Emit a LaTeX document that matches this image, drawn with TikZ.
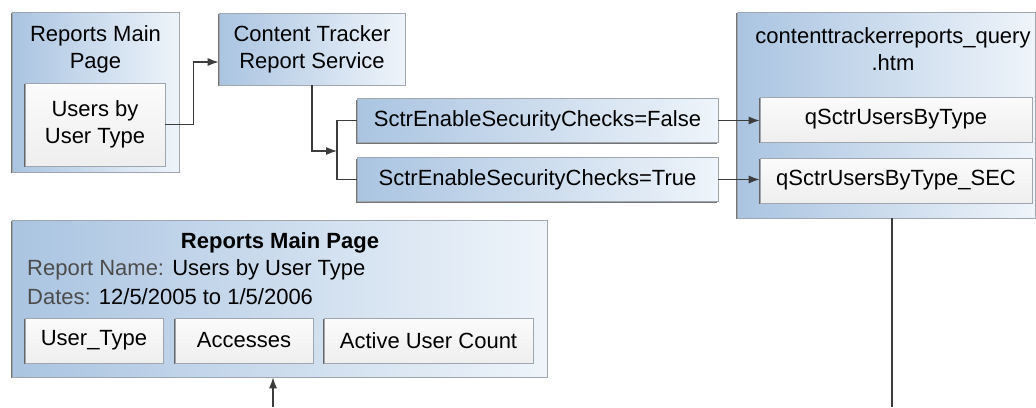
\documentclass[tikz,border=0pt]{standalone}
\usepackage{fontspec}
\setmainfont{Liberation Sans}
\usetikzlibrary{positioning,shadows,arrows.meta}

\definecolor{boxblueL}{HTML}{AAC4E1}
\definecolor{boxblueR}{HTML}{EEF4FA}
\definecolor{edgegray}{HTML}{A0A6AD}
\definecolor{linegray}{HTML}{3C3C3C}

\newcommand{\boxfont}{\fontsize{22}{27}\selectfont}
\tikzset{
  bluebox/.style={draw=edgegray,line width=0.6pt,left color=boxblueL,right color=boxblueR,
    general shadow={fill=black!55,shadow xshift=-1.2pt,shadow yshift=-1.4pt},inner sep=0pt},
  greybox/.style={draw=edgegray,line width=0.6pt,top color=gray!3,bottom color=gray!13,
    general shadow={fill=black!60,shadow xshift=-1.2pt,shadow yshift=-1.4pt},
    inner sep=0pt,align=center,font=\boxfont},
  wire/.style={draw=linegray,line width=1.2pt},
  lbl/.style={align=center,font=\boxfont,inner sep=0pt}
}

\begin{document}
\begin{tikzpicture}[x=1pt,y=-1pt,>={Latex[length=11pt,width=8pt]}]
\useasboundingbox (0,0) rectangle (1036,407);
% top left page
\node[bluebox,minimum width=167pt,minimum height=160pt](rmp) at (95.5,92){};
\node[lbl](rmptitle) at (95.5,49){Reports Main\\Page};
\node[greybox,minimum width=140pt,minimum height=83pt](ubut) at (95,124.5){Users by\\User Type};
% report service
\node[bluebox,lbl,minimum width=186pt,minimum height=72pt](crs) at (312,49){Content Tracker\\Report Service};
\node[bluebox,lbl,minimum width=361pt,minimum height=44pt](secf) at (537.5,120.5){SctrEnableSecurityChecks=False};
\node[bluebox,lbl,minimum width=361pt,minimum height=44pt](sect) at (537.5,179.5){SctrEnableSecurityChecks=True};
% query resource
\node[bluebox,minimum width=298pt,minimum height=206pt](query) at (886,115){};
\node[lbl](querytitle) at (893,49){contenttrackerreports\_query\\.htm};
\node[greybox,minimum width=272pt,minimum height=45pt](qusr) at (896,119.5){qSctrUsersByType};
\node[greybox,minimum width=272pt,minimum height=45pt](qsec) at (896,180.5){qSctrUsersByType\_SEC};
% result page
\node[bluebox,minimum width=535pt,minimum height=157pt](result) at (279.5,298.5){};
\node[lbl,font=\boxfont\bfseries](restitle) at (280,243){Reports Main Page};
\node[lbl,anchor=west](resname) at (27,270){\textcolor{black!70}{Report Name:} Users by User Type};
\node[lbl,anchor=west](resdates) at (27,297){\textcolor{black!70}{Dates:} 12/5/2005 to 1/5/2006};
\node[greybox,minimum width=138pt,minimum height=45pt](coltype) at (94,340.5){User\_Type};
\node[greybox,minimum width=138pt,minimum height=45pt](colacc) at (244,340.5){Accesses};
\node[greybox,minimum width=209pt,minimum height=45pt](colcount) at (428.5,340.5){Active User Count};

\coordinate (split) at (337,151);
\coordinate (qout) at (892,407);
\coordinate (rin) at (273,407);

\draw[wire,->](ubut.east)--++(28,0)|-([yshift=-13pt]crs.west);
\draw[wire,->](crs.south)|-(split);
\draw[wire](secf.west)-|(split)|-(sect.west);
\draw[wire,->](secf.east)--(secf.east-|qusr.west);
\draw[wire,->](sect.east)--(sect.east-|qsec.west);
\draw[wire](qout|-query.south)--(qout);
\draw[wire,->](rin)--(rin|-result.south);
\end{tikzpicture}
\end{document}
